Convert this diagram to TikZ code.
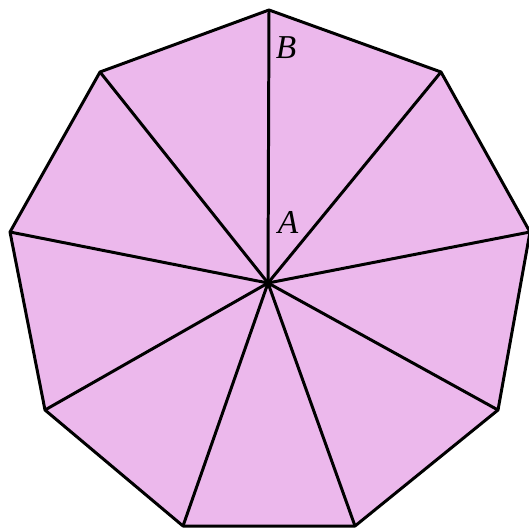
\documentclass[tikz,border=0pt]{standalone}
\usepackage{fontspec}
\newfontfamily\lblfont{Liberation Serif}
\begin{document}
\begin{tikzpicture}[x=0.02cm,y=-0.02cm,
  edge/.style={line width=1.7pt,line join=round},
  lbl/.style={font=\lblfont\fontsize{19}{22}\selectfont\itshape}]
\definecolor{fillpink}{RGB}{236,184,236}
\useasboundingbox (0,0) rectangle (528,530);
\coordinate (O) at (268,283);
\coordinate (v1) at (269,10);
\coordinate (v2) at (441,72);
\coordinate (v3) at (530,232);
\coordinate (v4) at (498,410);
\coordinate (v5) at (355,526);
\coordinate (v6) at (183,526);
\coordinate (v7) at (45,410);
\coordinate (v8) at (10,232);
\coordinate (v9) at (100,72);
\fill[fillpink] (v1)--(v2)--(v3)--(v4)--(v5)--(v6)--(v7)--(v8)--(v9)--cycle;
\foreach \i in {1,...,9}{\draw[edge] (O)--(v\i);}
\draw[edge] (v1)--(v2)--(v3)--(v4)--(v5)--(v6)--(v7)--(v8)--(v9)--cycle;
\node[lbl] (A) at (288,222) {A};
\node[lbl] (B) at (286,48) {B};
\end{tikzpicture}
\end{document}
